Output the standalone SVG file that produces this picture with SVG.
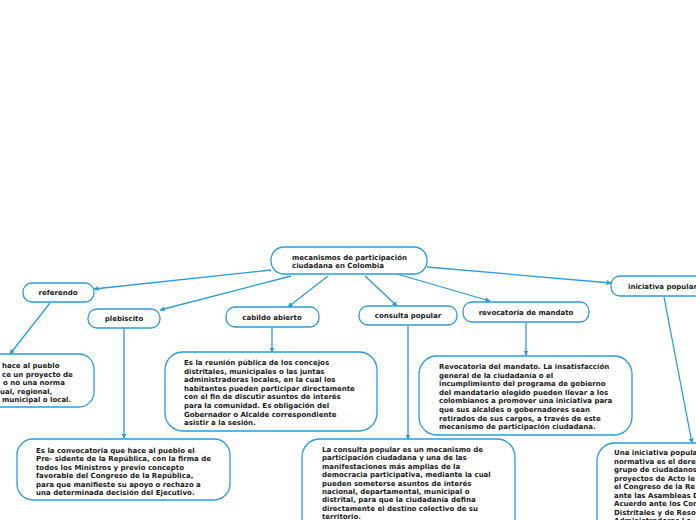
<svg xmlns="http://www.w3.org/2000/svg" width="696" height="520" viewBox="0 0 696 520">
<defs>
<marker id="arr" viewBox="0 0 10 10" refX="9" refY="5" markerWidth="5" markerHeight="5" orient="auto-start-reverse" markerUnits="userSpaceOnUse"><path d="M0,0 L10,5 L0,10 Z" fill="#2a9be0"/></marker>
<style>
.n{fill:#fff;stroke:#2a9be0;stroke-width:1.3}
.t{font-family:"DejaVu Sans",Verdana,sans-serif;font-weight:bold;font-size:7px;fill:#1a1a1a}
.c{text-anchor:middle}
.e{fill:none;stroke:#2a9be0;stroke-width:1.3;marker-end:url(#arr)}
</style>
</defs>
<rect width="696" height="520" fill="#fff"/>
<g id="connectors">
<path class="e" d="M271,270 L94,289"/>
<path class="e" d="M291,276 L160,310"/>
<path class="e" d="M328,276 L288,307"/>
<path class="e" d="M365,276 L397,306"/>
<path class="e" d="M397,274 L490,301"/>
<path class="e" d="M427,267 L611,283"/>
<path class="e" d="M50,303 L10,354"/>
<path class="e" d="M124,329 L124,438"/>
<path class="e" d="M272,328 L272,352"/>
<path class="e" d="M408,326 L408,439"/>
<path class="e" d="M526,323 L526,355"/>
<path class="e" d="M664,297 L692,443"/>
</g>
<g id="root">
<rect class="n" x="271" y="247" width="156" height="27" rx="13"/>
<text class="t" x="292" y="260">mecanismos de participación</text>
<text class="t" x="292" y="268">ciudadana en Colombia</text>
</g>
<g id="referendo">
<rect class="n" x="23" y="283" width="71" height="19" rx="9"/>
<text class="t c" x="58" y="295">referendo</text>
</g>
<g id="plebiscito">
<rect class="n" x="88" y="309" width="72" height="19" rx="9"/>
<text class="t c" x="124" y="321">plebiscito</text>
</g>
<g id="cabildo">
<rect class="n" x="226" y="307" width="93" height="20" rx="9"/>
<text class="t c" x="272" y="320">cabildo abierto</text>
</g>
<g id="consulta">
<rect class="n" x="359" y="306" width="98" height="19" rx="9"/>
<text class="t c" x="408" y="318">consulta popular</text>
</g>
<g id="revocatoria">
<rect class="n" x="463" y="302" width="126" height="20" rx="9"/>
<text class="t c" x="526" y="315">revocatoria de mandato</text>
</g>
<g id="iniciativa">
<rect class="n" x="611" y="276" width="100" height="20" rx="9"/>
<text class="t" x="628" y="289">iniciativa popular</text>
</g>
<g id="referendo-text">
<rect class="n" x="-20" y="354" width="114" height="53" rx="15"/>
<text class="t" x="2" y="368">hace al pueblo</text>
<text class="t" x="2" y="376.5">ce un proyecto de</text>
<text class="t" x="3" y="385">o no una norma</text>
<text class="t" x="0" y="393.5">ual, regional,</text>
<text class="t" x="2" y="402">municipal o local.</text>
</g>
<g id="plebiscito-text">
<rect class="n" x="17" y="439" width="213" height="61" rx="16"/>
<text class="t" x="36" y="452.5">Es la convocatoria que hace al pueblo el</text>
<text class="t" x="36" y="461">Pre- sidente de la República, con la firma de</text>
<text class="t" x="36" y="469.5">todos los Ministros y previo concepto</text>
<text class="t" x="36" y="478">favorable del Congreso de la República,</text>
<text class="t" x="36" y="486.5">para que manifieste su apoyo o rechazo a</text>
<text class="t" x="36" y="495">una determinada decisión del Ejecutivo.</text>
</g>
<g id="cabildo-text">
<rect class="n" x="165" y="352" width="212" height="79" rx="18"/>
<text class="t" x="184" y="365">Es la reunión pública de los concejos</text>
<text class="t" x="184" y="373.5">distritales, municipales o las juntas</text>
<text class="t" x="184" y="382">administradoras locales, en la cual los</text>
<text class="t" x="184" y="390.7">habitantes pueden participar directamente</text>
<text class="t" x="184" y="399.3">con el fin de discutir asuntos de interés</text>
<text class="t" x="184" y="408">para la comunidad. Es obligación del</text>
<text class="t" x="184" y="416.5">Gobernador o Alcalde correspondiente</text>
<text class="t" x="184" y="425">asistir a la sesión.</text>
</g>
<g id="consulta-text">
<rect class="n" x="302" y="439" width="213" height="100" rx="18"/>
<text class="t" x="322" y="452">La consulta popular es un mecanismo de</text>
<text class="t" x="322" y="460.4">participación ciudadana y una de las</text>
<text class="t" x="322" y="468.8">manifestaciones más amplias de la</text>
<text class="t" x="322" y="477.2">democracia participativa, mediante la cual</text>
<text class="t" x="322" y="485.6">pueden someterse asuntos de interés</text>
<text class="t" x="322" y="494">nacional, departamental, municipal o</text>
<text class="t" x="322" y="502.4">distrital, para que la ciudadanía defina</text>
<text class="t" x="322" y="510.8">directamente el destino colectivo de su</text>
<text class="t" x="322" y="519">territorio.</text>
</g>
<g id="revocatoria-text">
<rect class="n" x="419" y="356" width="213" height="79" rx="18"/>
<text class="t" x="439" y="369">Revocatoria del mandato. La insatisfacción</text>
<text class="t" x="439" y="377.5">general de la ciudadanía o el</text>
<text class="t" x="439" y="386">incumplimiento del programa de gobierno</text>
<text class="t" x="439" y="394.7">del mandatario elegido pueden llevar a los</text>
<text class="t" x="439" y="403.3">colombianos a promover una iniciativa para</text>
<text class="t" x="439" y="412">que sus alcaldes o gobernadores sean</text>
<text class="t" x="439" y="420.5">retirados de sus cargos, a través de este</text>
<text class="t" x="439" y="429">mecanismo de participación ciudadana.</text>
</g>
<g id="iniciativa-text">
<rect class="n" x="597" y="443" width="130" height="100" rx="18"/>
<text class="t" x="614" y="455">Una iniciativa popula</text>
<text class="t" x="614" y="463.5">normativa es el dere</text>
<text class="t" x="614" y="472">grupo de ciudadanos</text>
<text class="t" x="614" y="480.5">proyectos de Acto le</text>
<text class="t" x="614" y="489">el Congreso de la Re</text>
<text class="t" x="614" y="497.5">ante las Asambleas D</text>
<text class="t" x="614" y="506">Acuerdo ante los Con</text>
<text class="t" x="614" y="514.5">Distritales y de Reso</text>
<text class="t" x="614" y="523">Administradoras Lo</text>
</g>
</svg>
